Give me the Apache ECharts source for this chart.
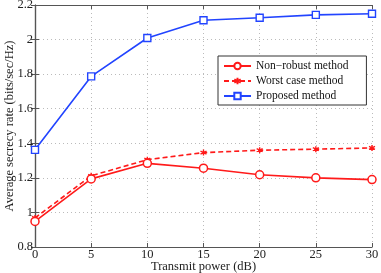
<!DOCTYPE html>
<html><head><meta charset="utf-8">
<script src="https://cdn.jsdelivr.net/npm/echarts@6/dist/echarts.min.js"></script>
<style>html,body{margin:0;padding:0;background:#fff}#c{width:381px;height:273px}</style>
</head><body><div id="c"></div>
<script>
const categories = [0, 5, 10, 15, 20, 25, 30];
const nonRobust = [0.948, 1.194, 1.284, 1.256, 1.218, 1.2, 1.19];
const worstCase = [0.968, 1.212, 1.305, 1.346, 1.36, 1.366, 1.373];
const proposed = [1.362, 1.787, 2.009, 2.112, 2.126, 2.143, 2.149];
const seriesNames = ['Non\u2212robust method', 'Worst case method', 'Proposed method'];
const xTicks = [0, 5, 10, 15, 20, 25, 30];
const yTicks = [0.8, 1, 1.2, 1.4, 1.6, 1.8, 2, 2.2];

const FONT = 'Liberation Serif';
const RED = '#ff1a1a', BLUE = '#2244ff';
const star = 'path://M0,-1L0,1M-0.87,-0.5L0.87,0.5M-0.87,0.5L0.87,-0.5';
const frame = '#555';
const pair = a => categories.map((x, i) => [x, a[i]]);
const fmtY = v => { const r = Math.round(v * 10) / 10; return yTicks.some(t => Math.abs(t - r) < 1e-9) ? String(r) : ''; };

const chart = echarts.init(document.getElementById('c'), null, {renderer: 'canvas'});
const baseX = {type: 'value', min: 0, max: 30, interval: 5};
const baseY = {type: 'value', min: 0.8, max: 2.2, interval: 0.2};
chart.setOption({
  animation: false,
  textStyle: {fontFamily: FONT},
  grid: {left: 35, right: 9, top: 5, bottom: 26, containLabel: false, outerBoundsMode: 'none'},
  xAxis: [
    Object.assign({}, baseX, {
      position: 'bottom',
      name: 'Transmit power (dB)', nameLocation: 'middle', nameGap: 13, nameMoveOverlap: false,
      nameTextStyle: {fontFamily: FONT, fontSize: 12.5, color: '#222'},
      axisLine: {lineStyle: {color: frame, width: 1.2}},
      axisTick: {inside: true, length: 4, lineStyle: {color: frame}},
      axisLabel: {fontFamily: FONT, fontSize: 12.5, color: '#222', margin: 1, formatter: v => String(v)},
      splitLine: {show: true, lineStyle: {color: '#bbb', type: [1, 3], width: 1}}
    }),
    Object.assign({}, baseX, {
      position: 'top',
      axisLine: {lineStyle: {color: frame, width: 1.2}},
      axisTick: {inside: true, length: 4, lineStyle: {color: frame}},
      axisLabel: {show: false}, splitLine: {show: false}
    })
  ],
  yAxis: [
    Object.assign({}, baseY, {
      position: 'left',
      name: 'Average secrecy rate (bits/sec/Hz)', nameLocation: 'middle', nameGap: 19, nameRotate: 90, nameMoveOverlap: false,
      nameTextStyle: {fontFamily: FONT, fontSize: 12.5, color: '#222'},
      axisLine: {lineStyle: {color: frame, width: 1.2}},
      axisTick: {inside: true, length: 4, lineStyle: {color: frame}},
      axisLabel: {fontFamily: FONT, fontSize: 12.5, color: '#222', margin: 2, formatter: fmtY},
      splitLine: {show: true, lineStyle: {color: '#bbb', type: [1, 3], width: 1}}
    }),
    Object.assign({}, baseY, {
      position: 'right',
      axisLine: {show: true, lineStyle: {color: frame, width: 1.2}},
      axisTick: {show: true, inside: true, length: 4, lineStyle: {color: frame}},
      axisLabel: {show: false}, splitLine: {show: false}
    })
  ],
  legend: {
    left: 218, top: 56, orient: 'vertical',
    backgroundColor: '#fff', borderColor: '#333', borderWidth: 1, borderRadius: 0,
    padding: [4, 18, 3, 5], itemGap: 3, itemWidth: 27, itemHeight: 8,
    textStyle: {fontFamily: FONT, fontSize: 11.5, color: '#111'},
    data: seriesNames
  },
  series: [
    {name: seriesNames[0], type: 'line', data: pair(nonRobust), symbol: 'circle', symbolSize: 8,
     itemStyle: {color: '#fff', borderColor: RED, borderWidth: 1.5}, lineStyle: {color: RED, width: 1.6}, z: 3},
    {name: seriesNames[1], type: 'line', data: pair(worstCase), symbol: star, symbolSize: 6,
     itemStyle: {color: RED, borderColor: RED, borderWidth: 1.4}, lineStyle: {color: RED, width: 1.6, type: [5, 3]}, z: 2},
    {name: seriesNames[2], type: 'line', data: pair(proposed), symbol: 'rect', symbolSize: 7,
     itemStyle: {color: '#fff', borderColor: BLUE, borderWidth: 1.4}, lineStyle: {color: BLUE, width: 1.6}, z: 3}
  ]
});
</script></body></html>
